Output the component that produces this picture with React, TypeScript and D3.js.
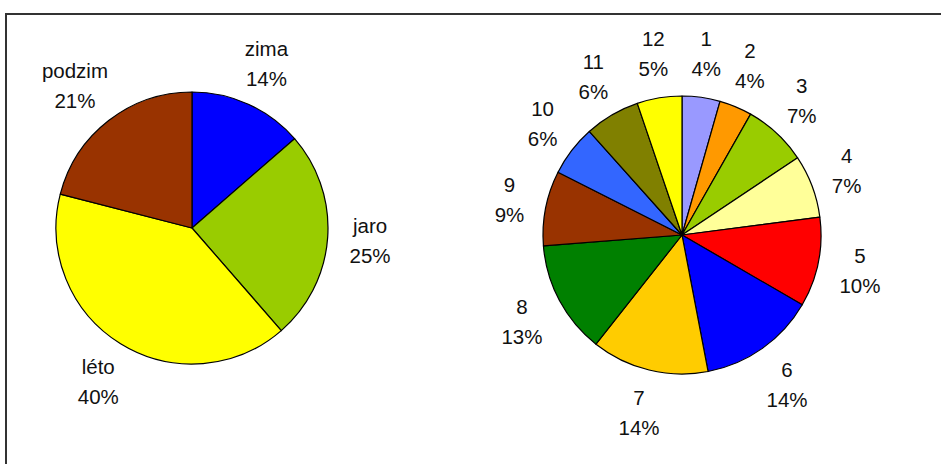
import React from "react";
import * as d3 from "d3";

// Seasonal shares (left pie)
const seasons = ["zima", "jaro", "léto", "podzim"];
const seasonValues = [13.6, 25.0, 40.4, 21.0];
const seasonColors = ["#0000FF", "#99CC00", "#FFFF00", "#993300"];

// Monthly shares (right pie)
const months = ["1", "2", "3", "4", "5", "6", "7", "8", "9", "10", "11", "12"];
const monthValues = [4.4, 3.8, 7.4, 7.3, 10.4, 13.6, 13.6, 13.1, 8.7, 5.9, 6.4, 5.2];
const monthColors = [
  "#9999FF", "#FF9900", "#99CC00", "#FFFF99", "#FF0000", "#0000FF",
  "#FFCC00", "#008000", "#993300", "#3366FF", "#808000", "#FFFF00",
];

const W = 941;
const H = 464;
const FONT_SIZE = 20.5;
const FONT = `${FONT_SIZE}px "Liberation Sans", Arial, sans-serif`;
const LINE_GAP = 30;
const CAP = 0.716 * FONT_SIZE;

let measureCtx: CanvasRenderingContext2D | null = null;
function textWidth(s: string): number {
  if (!measureCtx) {
    const c = document.createElement("canvas");
    measureCtx = c.getContext("2d");
  }
  if (!measureCtx) return s.length * FONT_SIZE * 0.55;
  measureCtx.font = FONT;
  return measureCtx.measureText(s).width;
}

type PieProps = {
  cx: number;
  cy: number;
  r: number;
  names: string[];
  values: number[];
  colors: string[];
};

function LabeledPie({ cx, cy, r, names, values, colors }: PieProps) {
  const total = d3.sum(values);
  const pie = d3.pie<number>().sort(null).value((d) => d);
  const arcs = pie(values);
  const arc = d3.arc<d3.PieArcDatum<number>>().innerRadius(0).outerRadius(r);
  const labelR = r + 22;
  const blockH = CAP + LINE_GAP;

  return (
    <g transform={`translate(${cx},${cy})`}>
      {arcs.map((a, i) => (
        <path
          key={`s${i}`}
          d={arc(a) || ""}
          fill={colors[i]}
          stroke="#000"
          strokeWidth={1.2}
          strokeLinejoin="round"
        />
      ))}
      {arcs.map((a, i) => {
        // label block sits just outside the rim, pushed outward by half its size
        const mid = (a.startAngle + a.endAngle) / 2;
        const sx = Math.sin(mid);
        const sy = -Math.cos(mid);
        const pct = `${Math.round((a.data / total) * 100)}%`;
        const w = Math.max(textWidth(names[i]), textWidth(pct));
        const bx = labelR * sx + sx * (w / 2);
        const by = labelR * sy + sy * (blockH / 2);
        const base1 = by - blockH / 2 + CAP;
        return (
          <g key={`l${i}`} fill="#111" style={{ font: FONT }} textAnchor="middle">
            <text x={bx} y={base1}>{names[i]}</text>
            <text x={bx} y={base1 + LINE_GAP}>{pct}</text>
          </g>
        );
      })}
    </g>
  );
}

export default function App() {
  return (
    <div style={{ position: "absolute", left: 0, top: 0, width: W, height: H, background: "#fff" }}>
      <svg width={W} height={H} viewBox={`0 0 ${W} ${H}`} style={{ display: "block" }}>
        <rect x={0} y={0} width={W} height={H} fill="#fff" />
        {/* chart-area frame: only the top and left edges fall inside the view */}
        <path d={`M6,${H} V14 H${W}`} fill="none" stroke="#333" strokeWidth={2} />
        <LabeledPie cx={192} cy={228} r={136} names={seasons} values={seasonValues} colors={seasonColors} />
        <LabeledPie cx={682} cy={235} r={139} names={months} values={monthValues} colors={monthColors} />
      </svg>
    </div>
  );
}
